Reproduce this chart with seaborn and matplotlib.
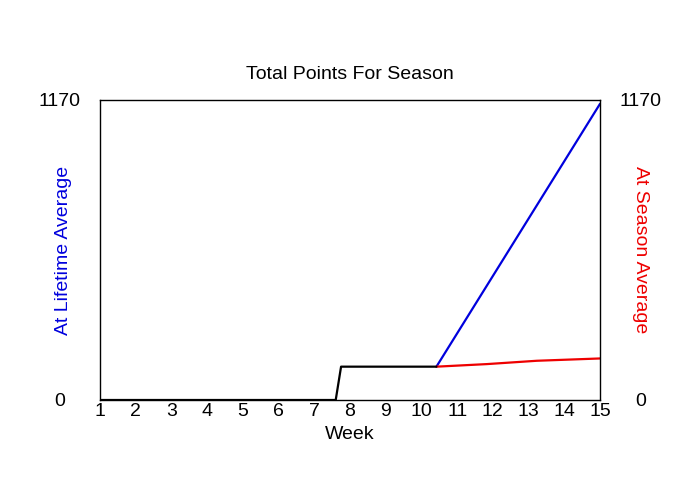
import matplotlib
matplotlib.use("Agg")
import matplotlib.pyplot as plt
import seaborn as sns
import pandas as pd

# Data
base_weeks = [1, 7.6, 7.75, 10.42]
base_points = [0, 0, 130, 130]
lifetime_weeks = [10.42, 15]
lifetime_points = [130, 1155]
season_weeks = [10.42, 11.83, 13.23, 15]
season_points = [130, 140, 153, 162]
x_ticks = list(range(1, 16))
y_ticks = [0, 1170]

sns.set_theme(style="white")
plt.rcParams['font.family'] = ['Liberation Sans', 'DejaVu Sans']

FS = 14
fig = plt.figure(figsize=(7, 5), dpi=100)
ax = fig.add_axes([100/700, 100/500, 500/700, 300/500])

sns.lineplot(x=lifetime_weeks, y=lifetime_points, ax=ax, color='#0000dd', linewidth=1.6)
sns.lineplot(x=season_weeks, y=season_points, ax=ax, color='#ee0000', linewidth=1.6)
sns.lineplot(x=base_weeks, y=base_points, ax=ax, color='black', linewidth=1.6)

ax.set_xlim(1, 15)
ax.set_ylim(0, 1170)
ax.set_xticks(x_ticks)
ax.set_xticklabels([str(t) for t in x_ticks])
ax.set_yticks(y_ticks)
ax.set_yticklabels([str(t) for t in y_ticks])
for s in ax.spines.values():
    s.set_color('black')
    s.set_linewidth(1.0)
ax.tick_params(axis='x', length=0, pad=2.5, labelsize=FS, colors='black')
ax.tick_params(axis='y', length=0, pad=29, labelsize=FS, colors='black')
for lbl in ax.get_yticklabels():
    lbl.set_horizontalalignment('center')

ax2 = ax.twinx()
ax2.set_ylim(0, 1170)
ax2.set_yticks(y_ticks)
ax2.set_yticklabels([str(t) for t in y_ticks])
ax2.tick_params(axis='y', length=0, pad=29, labelsize=FS, colors='black')
for lbl in ax2.get_yticklabels():
    lbl.set_horizontalalignment('center')
for s in ax2.spines.values():
    s.set_visible(False)

ax.set_xlabel('Week', fontsize=FS, color='black', labelpad=4)
ax.set_ylabel('At Lifetime Average', fontsize=FS, color='#0000dd', va='center')
ax.yaxis.set_label_coords(-37/500, 0.5)
ax2.set_ylabel('At Season Average', fontsize=FS, color='#ee0000', rotation=-90, va='center')
ax2.yaxis.set_label_coords(1 + 40/500, 0.5)
ax.set_title('Total Points For Season', fontsize=FS, color='black', pad=15)

fig.savefig('out.png', dpi=100, facecolor='white')
